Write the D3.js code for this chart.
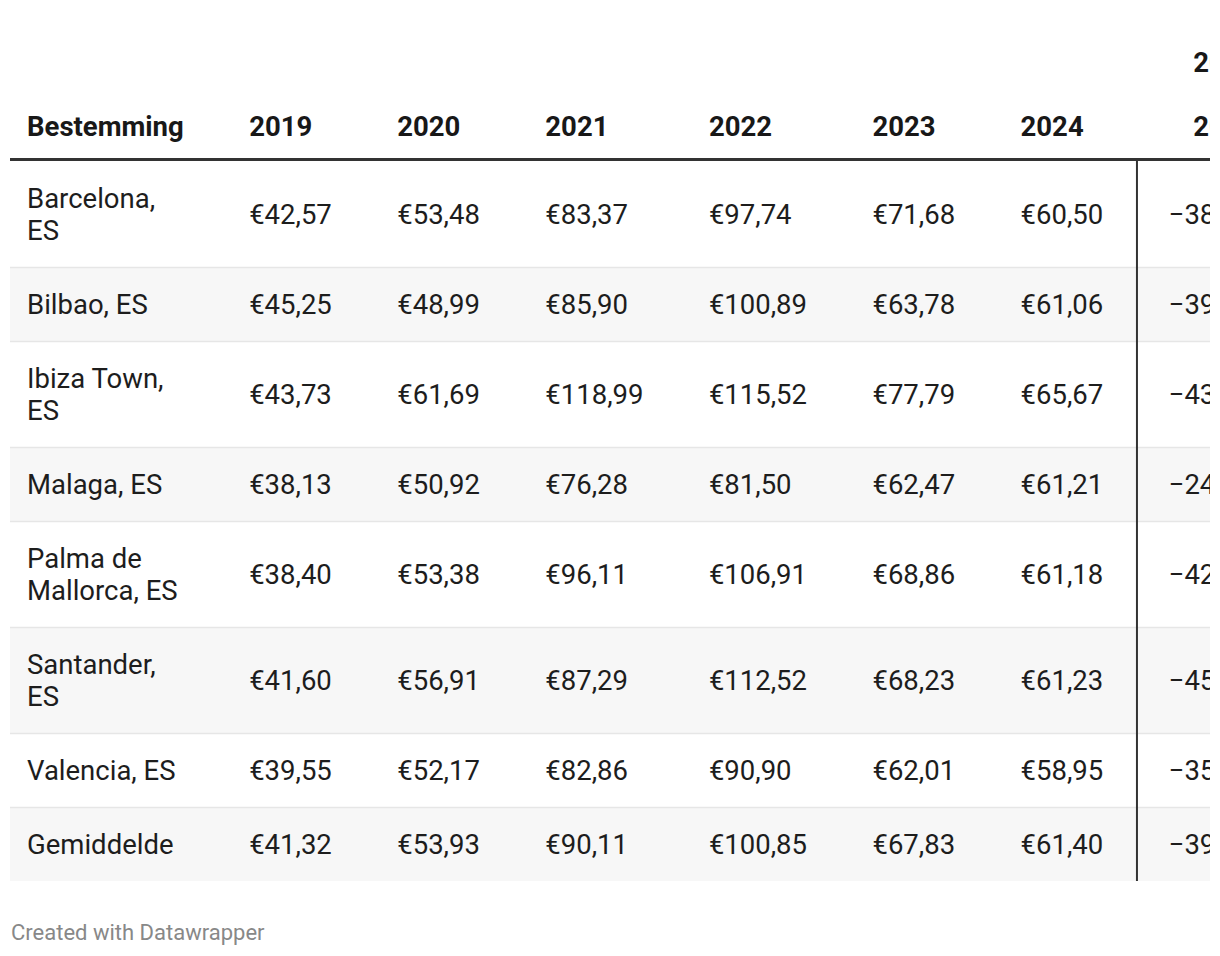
<!DOCTYPE html>
<html>
<head>
<meta charset="utf-8">
<script src="https://cdn.jsdelivr.net/npm/d3@7"></script>
<style>
  body { margin: 0; background: #fff; }
  text { font-family: Roboto, "Noto Sans", sans-serif; }
</style>
</head>
<body>
<div id="chart"></div>
<script>
const width = 1220,
    height = 956;

// data
const destinations = ["Barcelona, ES", "Bilbao, ES", "Ibiza Town, ES", "Malaga, ES",
    "Palma de Mallorca, ES", "Santander, ES", "Valencia, ES", "Gemiddelde"];
const years = ["2019", "2020", "2021", "2022", "2023", "2024"];
const p2019 = [42.57, 45.25, 43.73, 38.13, 38.40, 41.60, 39.55, 41.32];
const p2020 = [53.48, 48.99, 61.69, 50.92, 53.38, 56.91, 52.17, 53.93];
const p2021 = [83.37, 85.90, 118.99, 76.28, 96.11, 87.29, 82.86, 90.11];
const p2022 = [97.74, 100.89, 115.52, 81.50, 106.91, 112.52, 90.90, 100.85];
const p2023 = [71.68, 63.78, 77.79, 62.47, 68.86, 68.23, 62.01, 67.83];
const p2024 = [60.50, 61.06, 65.67, 61.21, 61.18, 61.23, 58.95, 61.40];
const change = [-38.1, -39.5, -43.2, -24.9, -42.8, -45.6, -35.1, -39.1];
const changeHeader = ["2022", "vs", "2024"];

const priceSeries = [p2019, p2020, p2021, p2022, p2023, p2024];

// layout
const tableLeft = 10, tableRight = 1210;
const fontSize = 27.5, lineH = 32, rowPad = 21;
const firstPad = 17, cellPad = 32.7;
const headerLineY = 159.5, bodyTop = 161;
const labelWrap = 160;

const nl = d3.formatLocale({
    decimal: ",", thousands: ".", grouping: [3],
    currency: ["€", ""], minus: "\u2212"
});
const fmtPrice = nl.format("$.2f");
const fmtPct = v => nl.format(".1f")(v) + "%";

const svg = d3.select("#chart")
    .append("svg")
    .attr("width", width)
    .attr("height", height)
    .attr("viewBox", `0 0 ${width} ${height}`);

// measure helper
const measurer = svg.append("text")
    .attr("font-size", fontSize)
    .attr("visibility", "hidden");
function textWidth(str, weight) {
    measurer.attr("font-weight", weight || 400).text(str);
    return measurer.node().getComputedTextLength();
}

// wrap labels like the table cell would
function wrap(str) {
    const words = str.split(" ");
    const lines = [];
    let cur = "";
    words.forEach(w => {
        const test = cur ? cur + " " + w : w;
        if (cur && textWidth(test) > labelWrap) {
            lines.push(cur);
            cur = w;
        } else {
            cur = test;
        }
    });
    lines.push(cur);
    return lines;
}

const rows = destinations.map((d, i) => ({
    lines: wrap(d),
    prices: priceSeries.map(s => s[i]),
    change: change[i],
    odd: i % 2 === 1
}));
rows.forEach(r => r.h = r.lines.length * lineH + rowPad * 2);
const tops = [bodyTop];
rows.forEach((r, i) => tops.push(tops[i] + r.h));
const bodyBottom = tops[tops.length - 1];

// column widths from content
const labelW = d3.max([textWidth("Bestemming", 700)].concat(rows.flatMap(r => r.lines.map(l => textWidth(l)))));
const colX = [tableLeft + firstPad];
let x = colX[0] + labelW + cellPad;
const yearX = years.map((yr, j) => {
    const w = d3.max([textWidth(yr, 700)].concat(priceSeries[j].map(v => textWidth(fmtPrice(v)))));
    const cx = x + cellPad;
    x = cx + w + cellPad;
    return cx;
});
const dividerX = x;
const changeW = d3.max(changeHeader.map(h => textWidth(h, 700)).concat(change.map(v => textWidth(fmtPct(v)))));
const changeRight = dividerX + cellPad + changeW;
measurer.remove();

svg.append("clipPath").attr("id", "tclip")
    .append("rect")
    .attr("x", tableLeft).attr("y", 0)
    .attr("width", tableRight - tableLeft).attr("height", height);

const table = svg.append("g").attr("clip-path", "url(#tclip)");

// row backgrounds
table.selectAll("rect.row")
    .data(rows)
    .join("rect")
    .attr("class", "row")
    .attr("x", tableLeft)
    .attr("y", (d, i) => tops[i])
    .attr("width", tableRight - tableLeft)
    .attr("height", d => d.h)
    .attr("fill", d => d.odd ? "#f7f7f7" : "#fff");

// row borders
table.selectAll("line.sep")
    .data(tops.slice(1, -1))
    .join("line")
    .attr("class", "sep")
    .attr("x1", tableLeft).attr("x2", tableRight)
    .attr("y1", d => d + 0.5).attr("y2", d => d + 0.5)
    .attr("stroke", "#e6e6e6")
    .attr("stroke-width", 1.5);

// header
const headerLastY = 126;
const header = table.append("g")
    .attr("font-weight", 700)
    .attr("font-size", fontSize)
    .attr("fill", "#181818");

header.append("text")
    .attr("x", colX[0]).attr("y", headerLastY).attr("dy", "0.36em")
    .text("Bestemming");

header.selectAll("text.yr")
    .data(years)
    .join("text")
    .attr("class", "yr")
    .attr("x", (d, j) => yearX[j]).attr("y", headerLastY).attr("dy", "0.36em")
    .text(d => d);

header.selectAll("text.ch")
    .data(changeHeader)
    .join("text")
    .attr("class", "ch")
    .attr("text-anchor", "end")
    .attr("x", changeRight)
    .attr("y", (d, i) => headerLastY - (changeHeader.length - 1 - i) * lineH)
    .attr("dy", "0.36em")
    .text(d => d);

table.append("line")
    .attr("x1", tableLeft).attr("x2", tableRight)
    .attr("y1", headerLineY).attr("y2", headerLineY)
    .attr("stroke", "#333")
    .attr("stroke-width", 3);

// body cells
const body = table.selectAll("g.rowg")
    .data(rows)
    .join("g")
    .attr("class", "rowg")
    .attr("font-size", fontSize)
    .attr("fill", "#1d1d1d")
    .attr("transform", (d, i) => `translate(0, ${tops[i] + d.h / 2})`);

body.each(function (r) {
    const g = d3.select(this);
    const off = -(r.lines.length - 1) * lineH / 2;
    g.selectAll("text.lab")
        .data(r.lines)
        .join("text")
        .attr("class", "lab")
        .attr("x", colX[0])
        .attr("y", (l, k) => off + k * lineH)
        .attr("dy", "0.36em")
        .text(l => l);
    g.selectAll("text.val")
        .data(r.prices)
        .join("text")
        .attr("class", "val")
        .attr("x", (v, j) => yearX[j])
        .attr("dy", "0.36em")
        .text(v => fmtPrice(v));
    g.append("text")
        .attr("x", changeRight)
        .attr("text-anchor", "end")
        .attr("dy", "0.36em")
        .text(fmtPct(r.change));
});

// divider before change column
table.append("line")
    .attr("x1", dividerX + 1).attr("x2", dividerX + 1)
    .attr("y1", bodyTop).attr("y2", bodyBottom)
    .attr("stroke", "#333")
    .attr("stroke-width", 2);

// footer
svg.append("text")
    .attr("x", 11)
    .attr("y", 932)
    .attr("dy", "0.36em")
    .attr("font-size", 22)
    .attr("fill", "#888")
    .text("Created with Datawrapper");
</script>
</body>
</html>
